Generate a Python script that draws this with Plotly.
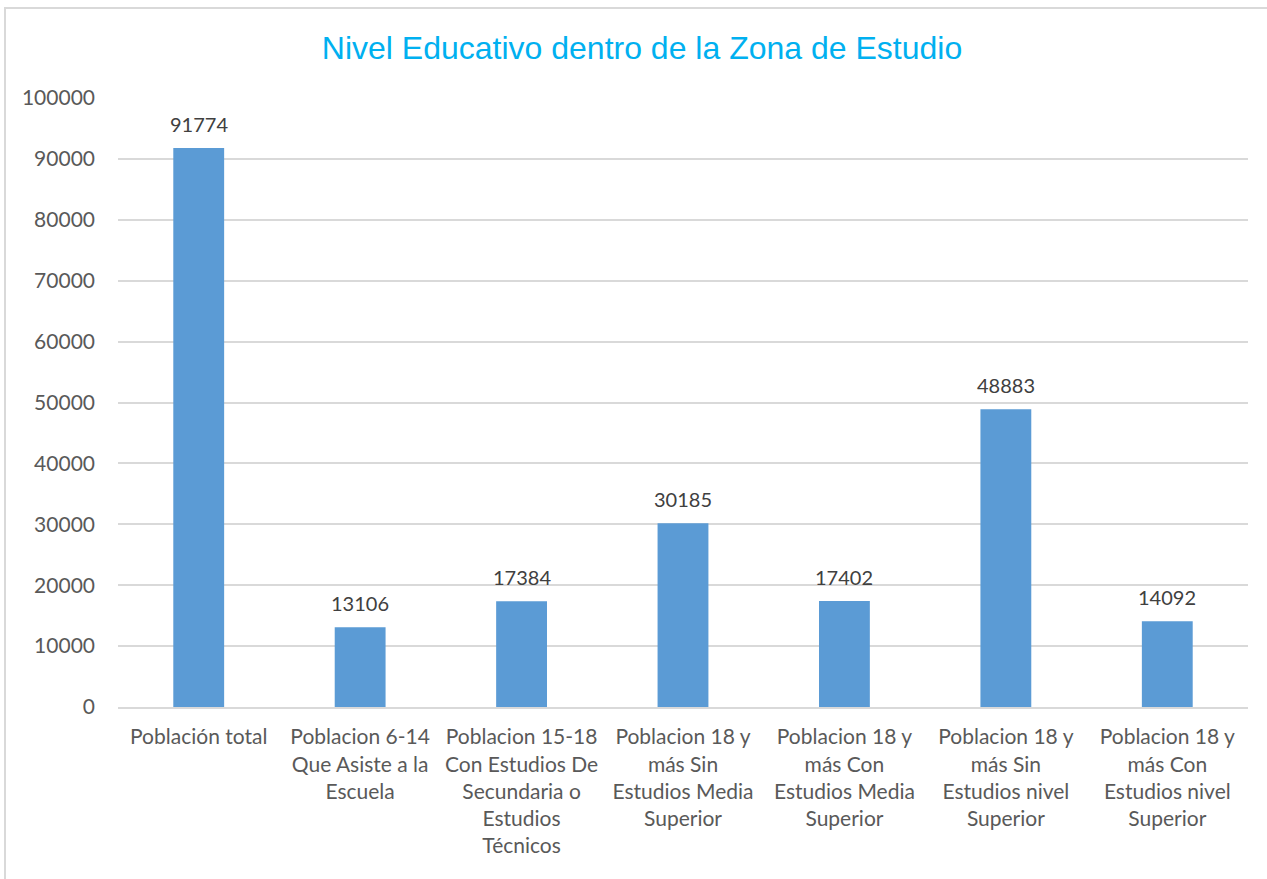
import plotly.graph_objects as go

categories = [
    "Población total",
    "Poblacion 6-14<br>Que Asiste a la<br>Escuela",
    "Poblacion 15-18<br>Con Estudios De<br>Secundaria o<br>Estudios<br>Técnicos",
    "Poblacion 18 y<br>más Sin<br>Estudios Media<br>Superior",
    "Poblacion 18 y<br>más Con<br>Estudios Media<br>Superior",
    "Poblacion 18 y<br>más Sin<br>Estudios nivel<br>Superior",
    "Poblacion 18 y<br>más Con<br>Estudios nivel<br>Superior",
]
values = [91774, 13106, 17384, 30185, 17402, 48883, 14092]
title_text = "Nivel Educativo dentro de la Zona de Estudio"

W, H = 1267, 879
L, R, T, B = 118, 19, 98, 172
pw, ph = W - L - R, H - T - B

fig = go.Figure(go.Bar(
    x=categories, y=values,
    marker=dict(color="#5B9BD5", line=dict(width=0)),
    cliponaxis=False,
))

for c, v in zip(categories, values):
    fig.add_annotation(x=c, y=v, xref="x", yref="y", text=str(v),
                       showarrow=False, yanchor="bottom", yshift=10,
                       font=dict(family="Lato", size=20, color="#404040"))

fig.update_layout(
    width=W, height=H,
    margin=dict(l=L, r=R, t=T, b=B, autoexpand=False),
    paper_bgcolor="white", plot_bgcolor="white",
    bargap=0.685,
    showlegend=False,
    title=dict(text=title_text, x=642 / W, xanchor="center",
               y=1 - 48 / H, yanchor="middle",
               font=dict(family="Liberation Sans", size=32, color="#00B0F0")),
    xaxis=dict(showgrid=False, showline=True, linecolor="#D9D9D9", linewidth=2,
               ticks="", tickangle=0, ticklabelstandoff=10,
               tickfont=dict(family="Lato", size=21, color="#595959")),
    yaxis=dict(range=[0, 100000], dtick=10000, tickformat="d",
               showgrid=True, gridcolor="#D9D9D9",
               gridwidth=1.5, zeroline=False, showline=False, ticks="",
               ticklabelstandoff=22,
               tickfont=dict(family="Lato", size=21, color="#595959")),
    shapes=[dict(type="rect", xref="paper", yref="paper",
                 x0=(5 - L) / pw, x1=(W + 10 - L) / pw,
                 y0=-(H + 10 - (T + ph)) / ph, y1=1 + (T - 8) / ph,
                 line=dict(color="#D9D9D9", width=2), fillcolor="rgba(0,0,0,0)",
                 layer="below")],
)

fig.write_html("out.html", config={"displayModeBar": False},
               post_script="document.body.style.margin='0';document.body.style.overflow='hidden';")
